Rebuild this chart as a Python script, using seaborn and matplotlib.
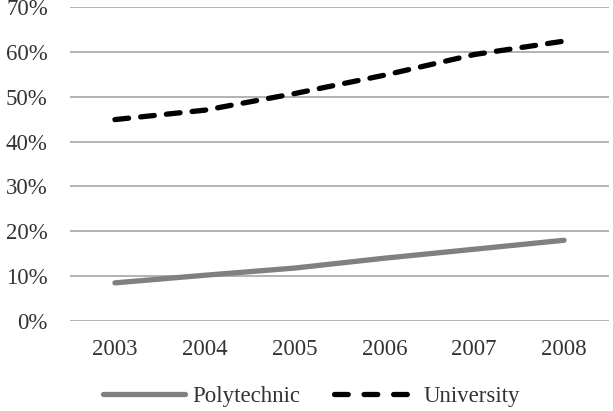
import matplotlib
matplotlib.use('Agg')
import matplotlib.pyplot as plt
import seaborn as sns
import pandas as pd
from matplotlib.ticker import PercentFormatter

# valeurs
years = ['2003', '2004', '2005', '2006', '2007', '2008']
polytechnic = [8.5, 10.2, 11.8, 14.0, 16.0, 18.0]
university = [44.9, 47.0, 50.7, 54.8, 59.4, 62.4]

df = pd.DataFrame({'year': years, 'Polytechnic': polytechnic, 'University': university})
long_df = df.melt(id_vars='year', var_name='type', value_name='share')

sns.set_theme(style='white')
plt.rcParams['font.family'] = ['Liberation Serif', 'DejaVu Serif']

fig = plt.figure(figsize=(6.13, 4.11), dpi=100)
ax = fig.add_axes([70 / 613, 1 - 321 / 411, 539 / 613, 314 / 411])

sns.lineplot(data=long_df, x='year', y='share', hue='type', style='type',
             palette={'Polytechnic': '#808080', 'University': '#000000'},
             dashes={'Polytechnic': '', 'University': (2.6, 2.3)},
             linewidth=3.8, ax=ax, legend=False,
             solid_capstyle='round', dash_capstyle='round')

ax.set_ylim(0, 70)
ax.set_xlim(-0.5, 5.5)
ax.set_yticks(range(0, 71, 10))
ax.yaxis.set_major_formatter(PercentFormatter(decimals=0))
ax.grid(axis='y', color='#a6a6a6', linewidth=1.2)
ax.set_axisbelow(True)
for s in ax.spines.values():
    s.set_visible(False)
ax.tick_params(axis='both', length=0, labelsize=16.5, colors='#333333')
ax.tick_params(axis='x', pad=13)
ax.tick_params(axis='y', pad=16)
ax.set_xlabel('')
ax.set_ylabel('')

# légende en bas, 3 tirets pour University
handles = [plt.Line2D([], [], color='#808080', linewidth=3.8, solid_capstyle='round'),
           plt.Line2D([], [], color='#000000', linewidth=3.8, dashes=(2.6, 3.0),
                      dash_capstyle='round')]
fig.legend(handles, ['Polytechnic', 'University'], loc='center',
           bbox_to_anchor=(0.508, 1 - 396 / 411), ncol=2, frameon=False,
           fontsize=16.5, handlelength=3.6, columnspacing=1.5, handletextpad=0.3,
           labelcolor='#333333', borderpad=0)

fig.savefig('out.png', dpi=100)
